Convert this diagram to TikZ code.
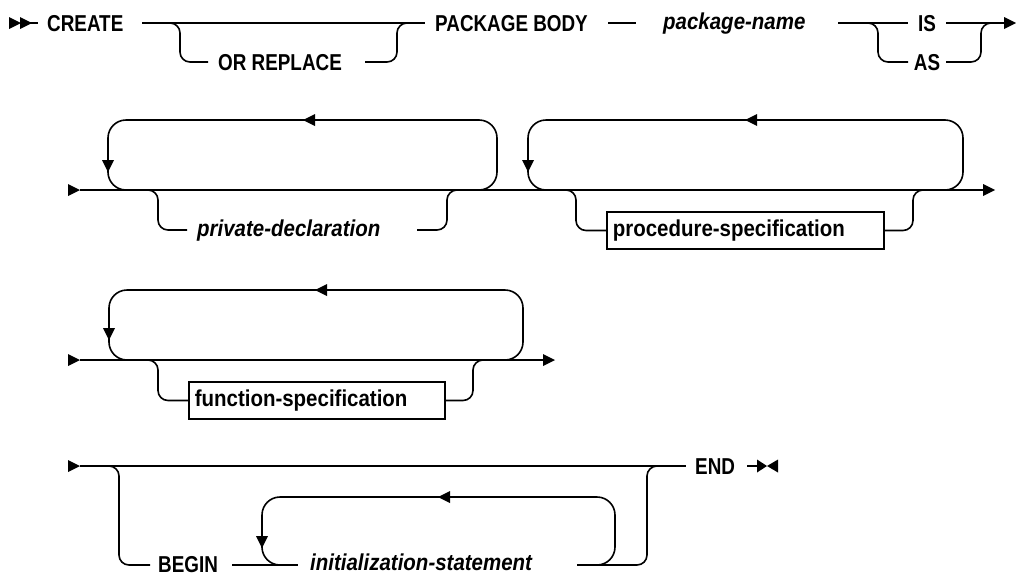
\documentclass[tikz,border=0pt]{standalone}
\usepackage{fontspec}
\newfontfamily\kwfont{Liberation Sans}[FakeStretch=0.82]
\newfontfamily\idfont{Liberation Sans}[FakeStretch=0.89]

\tikzset{
  rail/.style={line width=1.6pt, line cap=butt},
  branch/.style={rail, rounded corners=10pt},
  loopline/.style={rail, rounded corners=18pt},
  kw/.style={anchor=base west, inner sep=0pt, font=\kwfont\bfseries\fontsize{23}{27}\selectfont},
  kwc/.style={kw, anchor=base},
  var/.style={anchor=base west, inner sep=0pt, font=\idfont\bfseries\itshape\fontsize{23}{27}\selectfont},
  refbox/.style={draw, line width=1.6pt, anchor=west, inner xsep=6pt, inner ysep=0pt,
    minimum height=37pt, align=left, font=\idfont\bfseries\fontsize{23}{27}\selectfont},
  tipR/.pic={\fill (0pt,0pt) -- (-12pt,6pt) -- (-12pt,-6pt) -- cycle;},
  tipL/.pic={\fill (0pt,0pt) -- (12pt,6pt) -- (12pt,-6pt) -- cycle;},
  tipD/.pic={\fill (0pt,0pt) -- (-6pt,12pt) -- (6pt,12pt) -- cycle;},
  bowtie/.pic={\fill (-10pt,6.5pt) -- (0pt,0pt) -- (-10pt,-6.5pt) -- cycle;
               \fill (11pt,6.5pt) -- (0pt,0pt) -- (11pt,-6.5pt) -- cycle;},
}

\begin{document}
\begin{tikzpicture}[x=1pt,y=-1pt]
\useasboundingbox (0,0) rectangle (1016,576);
\fill[white] (0,0) rectangle (1016,576);

% ---------- row 1: CREATE [OR REPLACE] PACKAGE BODY package-name IS|AS
\coordinate (r1start) at (21,23);
\pic at (21,23) {tipR};
\pic at (32,23) {tipR};
\draw[rail] (r1start) -- (38,23);
\node[kw] (create) at (47,31.2) {CREATE};
\coordinate (r1a) at (142,23);
\coordinate (r1b) at (425,23);
\draw[rail] (r1a) -- (r1b);
\node[kw] (orreplace) at (218,70.2) {OR REPLACE};
\draw[branch] (160,23) -- (180,23) -- (180,62) -- (208,62);
\draw[branch] (365,62) -- (397,62) -- (397,23) -- (415,23);
\node[kw] (pkgbody) at (435,31.2) {PACKAGE BODY};
\coordinate (r1c) at (608,23);
\coordinate (r1d) at (636,23);
\draw[rail] (r1c) -- (r1d);
\node[var] (pkgname) at (663,29) {package-name};
\coordinate (r1e) at (838,23);
\coordinate (r1f) at (908,23);
\draw[rail] (r1e) -- (r1f);
\node[kwc] (is) at (927,31.2) {IS};
\node[kwc] (as) at (927,70.2) {AS};
\coordinate (r1g) at (946,23);
\coordinate (r1end) at (1009,23);
\draw[rail] (r1g) -- (r1end);
\pic at (1016,23) {tipR};
\draw[branch] (868,23) -- (878,23) -- (878,62) -- (908,62);
\draw[branch] (946,62) -- (981,62) -- (981,23) -- (991,23);

% ---------- row 2: private-declaration ... procedure-specification ...
\coordinate (r2start) at (80,190);
\coordinate (r2end) at (988,190);
\pic at (80,190) {tipR};
\draw[rail] (r2start) -- (r2end);
\pic at (995,190) {tipR};
% repeat loop over private-declaration
\draw[loopline] (478,190) -- (497,190) -- (497,120) -- (108,120) -- (108,190) -- (127,190);
\pic at (303,120) {tipL};
\pic at (108,172) {tipD};
\draw[branch] (140,190) -- (158,190) -- (158,230) -- (187,230);
\node[var] (privdecl) at (197,236) {private-declaration};
\draw[branch] (417,230) -- (447,230) -- (447,190) -- (465,190);
% repeat loop over procedure-specification
\draw[loopline] (945,190) -- (963,190) -- (963,120) -- (528,120) -- (528,190) -- (547,190);
\pic at (745,120) {tipL};
\pic at (528,172) {tipD};
\node[refbox, text width=265pt] (procspec) at (606,230.5) {procedure-specification};
\draw[branch] (558,190) -- (576,190) -- (576,230.5) -- (procspec.west);
\draw[branch] (procspec.east) -- (913,230.5) -- (913,190) -- (931,190);

% ---------- row 3: function-specification ...
\coordinate (r3start) at (80,360);
\coordinate (r3end) at (548,360);
\pic at (80,360) {tipR};
\draw[rail] (r3start) -- (r3end);
\pic at (555,360) {tipR};
\draw[loopline] (505,360) -- (523,360) -- (523,290) -- (109,290) -- (109,360) -- (128,360);
\pic at (315,290) {tipL};
\pic at (109,340) {tipD};
\node[refbox, text width=244pt] (funcspec) at (188,400.5) {function-specification};
\draw[branch] (140,360) -- (158,360) -- (158,400.5) -- (funcspec.west);
\draw[branch] (funcspec.east) -- (473,400.5) -- (473,360) -- (491,360);

% ---------- row 4: [BEGIN initialization-statement ...] END
\coordinate (r4start) at (80,466);
\coordinate (r4end) at (686,466);
\pic at (80,466) {tipR};
\draw[rail] (r4start) -- (r4end);
\node[kw] (end) at (695,474.2) {END};
\coordinate (r4tail) at (747,466);
\coordinate (r4stop) at (760,466);
\draw[rail] (r4tail) -- (r4stop);
\pic at (767,466) {bowtie};
\draw[branch] (97,466) -- (119,466) -- (119,565) -- (150,565);
\node[kw] (begin) at (158,572) {BEGIN};
\coordinate (r4a) at (232,565);
\coordinate (r4b) at (298,565);
\draw[rail] (r4a) -- (r4b);
\node[var] (initstmt) at (310,570.5) {initialization-statement};
\draw[loopline] (596,565) -- (615,565) -- (615,497) -- (262,497) -- (262,565) -- (281,565);
\pic at (438,497) {tipL};
\pic at (262,548) {tipD};
\draw[branch] (577,565) -- (647,565) -- (647,466) -- (665,466);
\end{tikzpicture}
\end{document}
